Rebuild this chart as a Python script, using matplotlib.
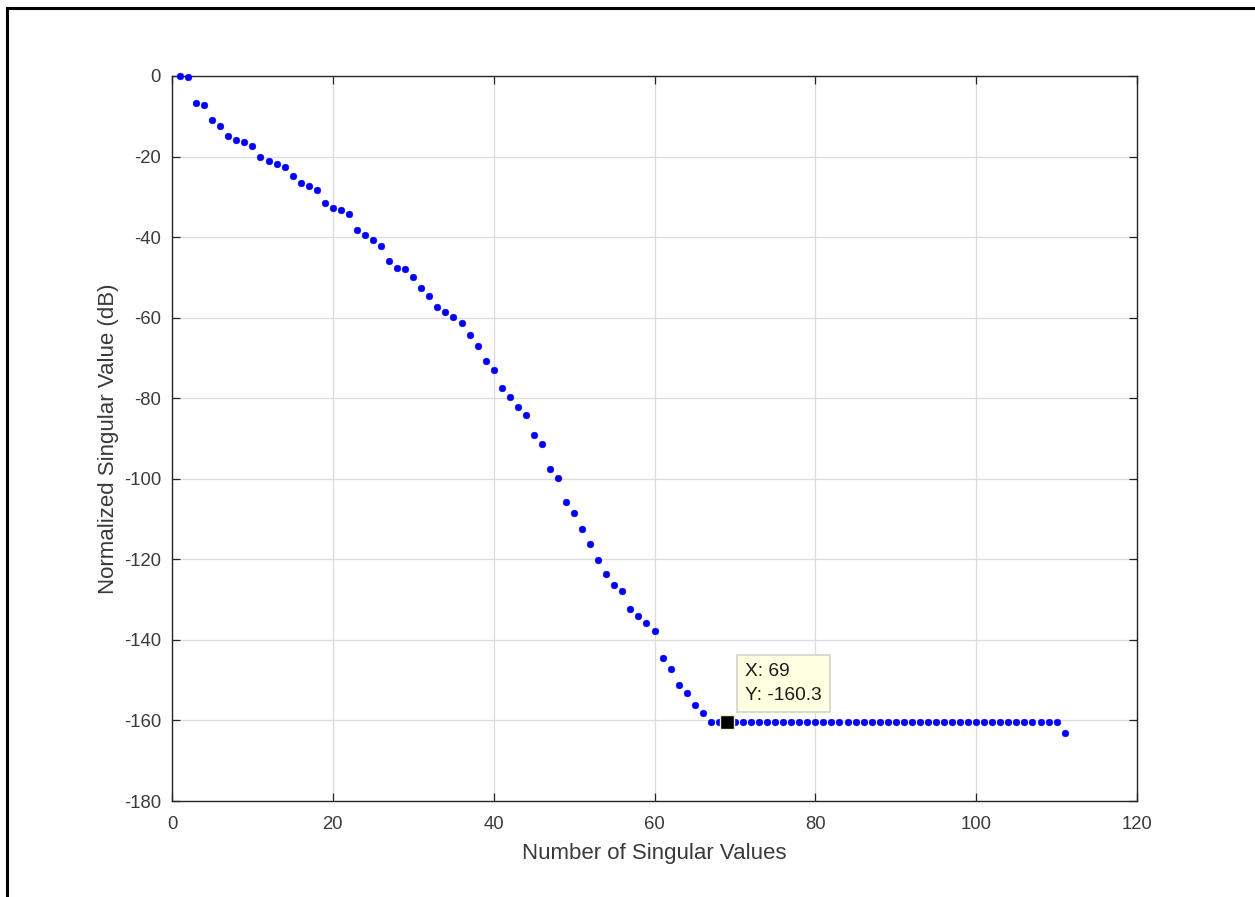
import matplotlib
matplotlib.use("Agg")
import matplotlib.pyplot as plt
from matplotlib.lines import Line2D
import numpy as np

# ---- data ----
sv_index = list(range(1, 112))
sv_db_head = [0.0, -0.3, -6.65, -7.3, -10.9, -12.3, -15.0, -16.0, -16.3, -17.5,
              -20.1, -21.1, -21.8, -22.6, -24.9, -26.6, -27.2, -28.4, -31.5, -32.8,
              -33.3, -34.2, -38.3, -39.4, -40.6, -42.3, -46.0, -47.7, -48.0, -49.9,
              -52.6, -54.5, -57.4, -58.6, -59.9, -61.3, -64.4, -67.0, -70.8, -72.9,
              -77.5, -79.7, -82.1, -84.2, -89.2, -91.4, -97.5, -99.8, -105.8, -108.5,
              -112.4, -116.2, -120.1, -123.6, -126.4, -127.9, -132.4, -134.1, -135.7, -137.9,
              -144.5, -147.3, -151.1, -153.3, -156.2, -158.1]
sv_db_floor = [-160.3] * 44          # indices 67..110
sv_db_tail = [-163.0]                # index 111
sv_db = sv_db_head + sv_db_floor + sv_db_tail

tip_x = 69
tip_y = -160.3

x_ticks = [0, 20, 40, 60, 80, 100, 120]
y_ticks = [0, -20, -40, -60, -80, -100, -120, -140, -160, -180]

plt.rcParams['font.family'] = ['Liberation Sans', 'DejaVu Sans']
plt.rcParams['axes.unicode_minus'] = False

W, H = 1255, 897
fig = plt.figure(figsize=(W / 100, H / 100), dpi=100)
ax = fig.add_axes([172 / W, 1 - 801 / H, (1137 - 172) / W, (801 - 76) / H])

dark = '#262626'
txt = '#3a3a3a'
ax.plot(sv_index, sv_db, linestyle='none', marker='o', ms=4.9, mfc='#0000ff',
        mec='#0000ff', mew=0.3, zorder=3, clip_on=False)

ax.set_xlim(0, 120)
ax.set_ylim(-180, 0)
ax.set_xticks(x_ticks)
ax.set_yticks(y_ticks)
ax.grid(True, color='#dcdcdc', linewidth=0.9)
ax.set_axisbelow(True)
for s in ax.spines.values():
    s.set_color(dark)
    s.set_linewidth(1.0)
ax.tick_params(direction='in', length=6, width=0.9, colors=dark, labelcolor=txt,
               labelsize=13.3, top=True, right=True)
ax.tick_params(axis='x', pad=11)
ax.tick_params(axis='y', pad=8)
ax.set_xlabel('Number of Singular Values', fontsize=16, color=txt, labelpad=7)
ax.set_ylabel('Normalized Singular Value (dB)', fontsize=16, color=txt, labelpad=3)

# data tip
ax.plot([tip_x], [tip_y], marker='s', ms=9.5, mfc='black', mec='#f5f0c8', mew=1.0,
        zorder=5, clip_on=False)
ax.annotate(f'X: {tip_x}\nY: {tip_y}', xy=(tip_x, tip_y), xytext=(18, 18),
            textcoords='offset pixels', ha='left', va='bottom', fontsize=13.8,
            color='#1a1a1a', linespacing=1.5,
            bbox=dict(boxstyle='square,pad=0.42', fc='#ffffe1', ec='#d4d4c8', lw=1.2),
            zorder=6)

# outer frame lines (top and left visible in reference)
fig.add_artist(Line2D([7 / W, 7 / W], [0, 1 - 8 / H], color='black', lw=2.2,
                      transform=fig.transFigure))
fig.add_artist(Line2D([7 / W, 1], [1 - 8 / H, 1 - 8 / H], color='black', lw=2.2,
                      transform=fig.transFigure))

fig.savefig('out.png', dpi=100, facecolor='white')
